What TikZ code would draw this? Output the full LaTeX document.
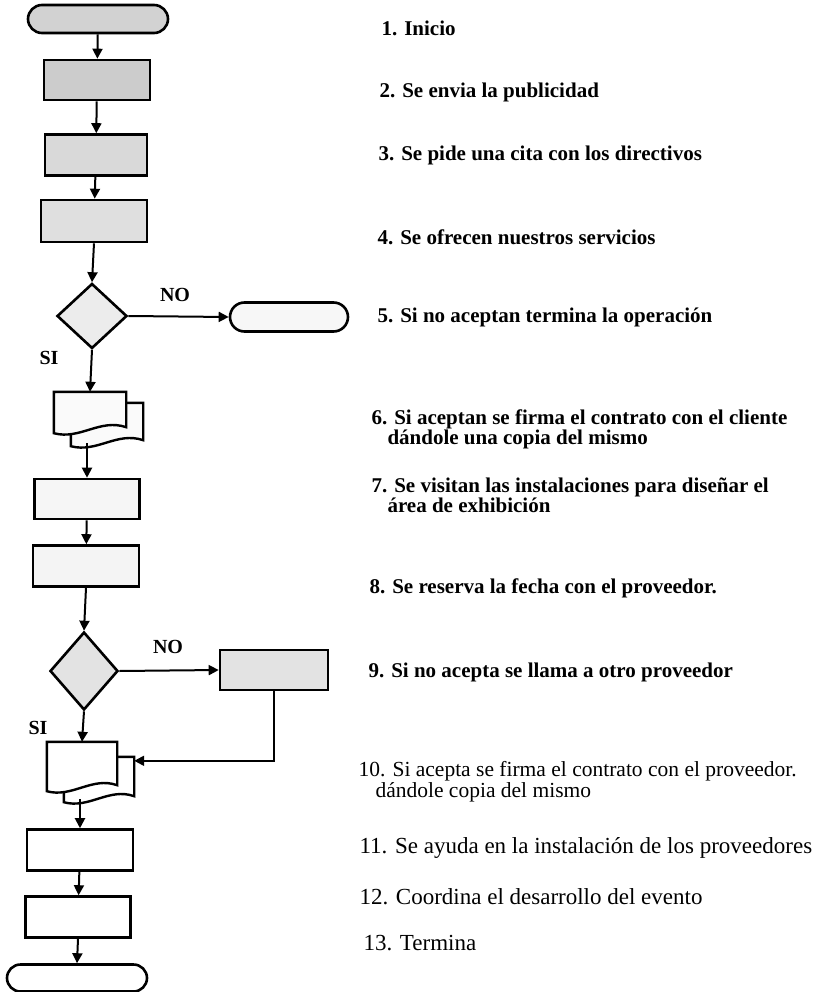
\documentclass[tikz,border=0pt]{standalone}
\usepackage{fontspec}
\setmainfont{Liberation Serif}
\usetikzlibrary{shapes.geometric,shapes.misc,arrows.meta,calc}

% hoja de documento con borde inferior ondulado
\newcommand{\hojadoc}[2]{%
  \draw[line width=2.4pt,fill=#2] (#1.north west) -- (#1.north east) -- ($(#1.south east)+(0,-3)$)
    .. controls ($(#1.south)+(10,-12)$) and ($(#1.south)+(-10,10)$) .. ($(#1.south west)+(0,3)$) -- cycle;}

\begin{document}
\begin{tikzpicture}[x=1pt,y=-1pt,
  >={Triangle[length=10pt,width=10pt]},
  flecha/.style={->,line width=2pt},
  caja/.style={draw,rectangle,line width=2.6pt,inner sep=0pt},
  extremo/.style={draw,rounded rectangle,line width=2.6pt,inner sep=0pt},
  rombo/.style={draw,diamond,line width=2.6pt,inner sep=0pt},
  hoja/.style={inner sep=0pt},
  paso/.style={anchor=west,align=left,font=\fontsize{21}{17}\selectfont\bfseries},
  pasob/.style={anchor=west,align=left,font=\fontsize{23}{21}\selectfont},
  rama/.style={font=\fontsize{20}{20}\selectfont\bfseries}]
\useasboundingbox (0,0) rectangle (822,992);

% columna principal
\node[extremo,fill=gray!35,minimum width=140pt,minimum height=28pt] (s1) at (98,19) {};
\node[caja,fill=gray!40,minimum width=106pt,minimum height=40pt] (s2) at (97,80) {};
\node[caja,fill=gray!30,minimum width=102pt,minimum height=41pt] (s3) at (96,155) {};
\node[caja,fill=gray!25,minimum width=106pt,minimum height=42pt] (s4) at (94,221) {};
\node[rombo,fill=gray!15,minimum width=70pt,minimum height=65pt] (s5d) at (92,316) {};
\node[extremo,fill=gray!6,minimum width=118pt,minimum height=29pt] (s5) at (289,317) {};

\node[hoja,minimum width=72pt,minimum height=40pt] (s6b) at (107,423) {};
\node[hoja,minimum width=72pt,minimum height=38pt] (s6) at (90,411) {};
\hojadoc{s6b}{gray!4}
\hojadoc{s6}{gray!4}

\node[caja,fill=gray!7,minimum width=105pt,minimum height=40pt] (s7) at (87,499) {};
\node[caja,fill=gray!9,minimum width=106pt,minimum height=41pt] (s8) at (86,566) {};
\node[rombo,fill=gray!22,minimum width=68pt,minimum height=78pt] (s9d) at (84,671) {};
\node[caja,fill=gray!22,minimum width=108pt,minimum height=40pt] (s9) at (274,670) {};

\node[hoja,minimum width=70pt,minimum height=42pt] (s10b) at (99,778) {};
\node[hoja,minimum width=70pt,minimum height=46pt] (s10) at (82,765) {};
\hojadoc{s10b}{white}
\hojadoc{s10}{white}
\coordinate (e10) at ($(s10b.north east)+(0,4)$);

\node[caja,minimum width=106pt,minimum height=41pt] (s11) at (80,850) {};
\node[caja,minimum width=105pt,minimum height=41pt] (s12) at (78,917) {};
\node[extremo,minimum width=140pt,minimum height=27pt] (s13) at (77,978) {};

% conectores
\draw[flecha] (s1) -- (s2);
\draw[flecha] (s2) -- (s3);
\draw[flecha] (s3) -- (s4);
\draw[flecha] (s4.south) -- (s5d.north);
\draw[flecha] (s5d.east) -- (s5.west);
\draw[flecha] (s5d.south) -- (s6.north);
\draw[flecha] (s6b.south -| s7.north) -- (s7.north);
\draw[flecha] (s7) -- (s8);
\draw[flecha] (s8.south) -- (s9d.north);
\draw[flecha] (s9d.east) -- (s9.west);
\draw[flecha] (s9d.south) -- (s10.north);
\draw[flecha] (s9.south) |- (e10);
\draw[flecha] (s10b.south -| s11.north) -- (s11.north);
\draw[flecha] (s11) -- (s12);
\draw[flecha] (s12.south) -- (s13.north);

\node[rama] (no1) at (175,295) {NO};
\node[rama] (si1) at (49,358) {SI};
\node[rama] (no2) at (168,647) {NO};
\node[rama] (si2) at (38,728) {SI};

% descripcion de los pasos
\node[paso] (t1) at (378,28) {1. Inicio};
\node[paso] (t2) at (376,92) {2. Se envia la publicidad};
\node[paso] (t3) at (375,155) {3. Se pide una cita con los directivos};
\node[paso] (t4) at (374,237) {4. Se ofrecen nuestros servicios};
\node[paso] (t5) at (374,317) {5. Si no aceptan termina la operación};
\node[paso] (t6) at (368,429) {6. Si aceptan se firma el contrato con el cliente\\\hspace*{16pt}dándole una copia del mismo};
\node[paso] (t7) at (368,495) {7. Se visitan las instalaciones para diseñar el\\\hspace*{16pt}área de exhibición};
\node[paso] (t8) at (366,588) {8. Se reserva la fecha con el proveedor.};
\node[paso] (t9) at (365,672) {9. Si no acepta se llama a otro proveedor};
\node[pasob,font=\fontsize{21.5}{21}\selectfont] (t10) at (355,782) {10. Si acepta se firma el contrato con el proveedor.\\\hspace*{17pt}dándole copia del mismo};
\node[pasob] (t11) at (356,848) {11. Se ayuda en la instalación de los proveedores};
\node[pasob] (t12) at (356,897) {12. Coordina el desarrollo del evento};
\node[pasob] (t13) at (360,943) {13. Termina};
\end{tikzpicture}
\end{document}
